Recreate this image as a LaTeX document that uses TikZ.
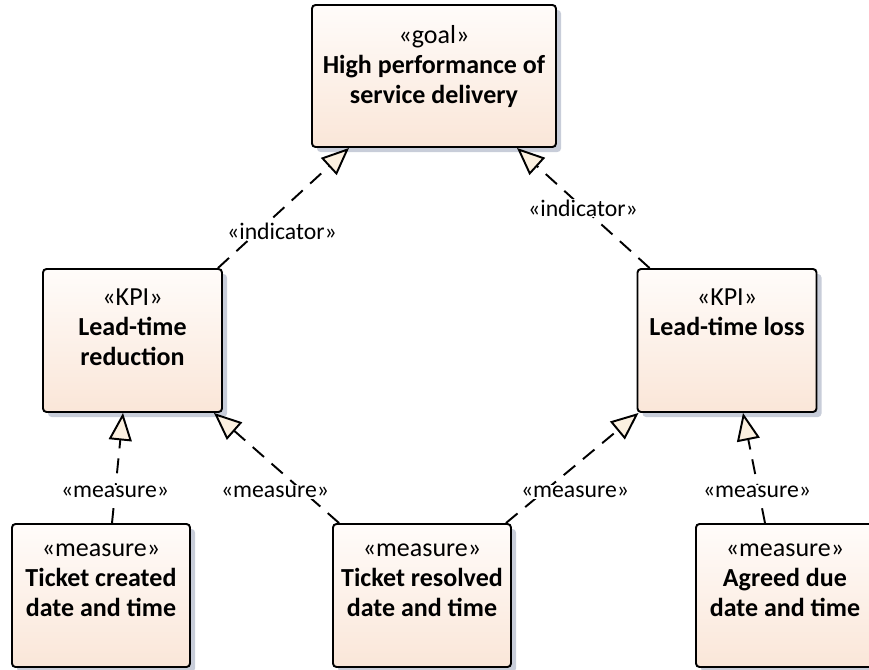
\documentclass[tikz,border=0pt]{standalone}
\usepackage{fontspec}
\setmainfont{Carlito}
\usepackage{xcolor}
\usepackage{tikz}
\usetikzlibrary{arrows.meta, shadows}

\definecolor{boxtop}{HTML}{FFFCFA}
\definecolor{boxbot}{HTML}{FAE6D8}
\definecolor{shadowc}{HTML}{C8CDD9}
\definecolor{tipfill}{HTML}{FBF0E0}

\begin{document}
\begin{tikzpicture}[
    box/.style={rectangle, draw, line width=1.1pt, rounded corners=2pt,
                top color=boxtop, bottom color=boxbot,
                drop shadow={shadow xshift=0.1cm, shadow yshift=-0.1cm,
                             fill=shadowc, opacity=1},
                minimum width=3.58cm, minimum height=2.86cm},
    boxtext/.style={anchor=north, yshift=-0.3cm, align=center,
                    font=\fontsize{14.8}{17}\selectfont},
    tag/.style={fill=white, inner sep=0.5pt, font=\fontsize{13.5}{15}\selectfont},
    arrow/.style={line width=1.1pt, dash pattern=on 0.3cm off 0.2cm,
                  -{Triangle[fill=tipfill, length=0.55cm, width=0.46cm]}}]
  \useasboundingbox (0,0) rectangle (17.38,13.38);
  \node[box, minimum width=4.88cm, minimum height=2.84cm,
        label={[boxtext]north:«goal»\\\textbf{High performance of}\\\textbf{service delivery}}]
        (goal) at (8.68,11.86) {};
  \node[box, label={[boxtext]north:«KPI»\\\textbf{Lead-time}\\\textbf{reduction}}]
        (kpil) at (2.65,6.57) {};
  \node[box, label={[boxtext]north:«KPI»\\\textbf{Lead-time loss}}]
        (kpir) at (14.54,6.57) {};
  \node[box, minimum width=3.56cm,
        label={[boxtext]north:«measure»\\\textbf{Ticket created}\\\textbf{date and time}}]
        (m1) at (2.02,1.47) {};
  \node[box, minimum width=3.56cm,
        label={[boxtext]north:«measure»\\\textbf{Ticket resolved}\\\textbf{date and time}}]
        (m2) at (8.44,1.47) {};
  \node[box, minimum width=3.56cm,
        label={[boxtext]north:«measure»\\\textbf{Agreed due}\\\textbf{date and time}}]
        (m3) at (15.70,1.47) {};
  \draw[arrow] ([xshift=-0.1cm]kpil.north east) -- ([xshift=0.76cm]goal.south west);
  \draw[arrow] ([xshift=0.26cm]kpir.north west) -- ([xshift=-0.8cm]goal.south east);
  \draw[arrow] ([xshift=0.22cm]m1.north) -- ([xshift=-0.19cm]kpil.south);
  \draw[arrow] ([xshift=0.14cm]m2.north west) -- ([xshift=-0.18cm]kpil.south east);
  \draw[arrow] ([xshift=-0.12cm]m2.north east) -- ([xshift=0.04cm]kpir.south west);
  \draw[arrow] ([xshift=-0.4cm]m3.north) -- ([xshift=0.32cm]kpir.south);
  \node[tag] (ind1) at (5.64,8.76) {«indicator»};
  \node[tag] (ind2) at (11.66,9.22) {«indicator»};
  \node[tag] (meas1) at (2.30,3.54) {«measure»};
  \node[tag] (meas2) at (5.50,3.54) {«measure»};
  \node[tag] (meas3) at (11.50,3.54) {«measure»};
  \node[tag] (meas4) at (15.14,3.54) {«measure»};
\end{tikzpicture}
\end{document}
